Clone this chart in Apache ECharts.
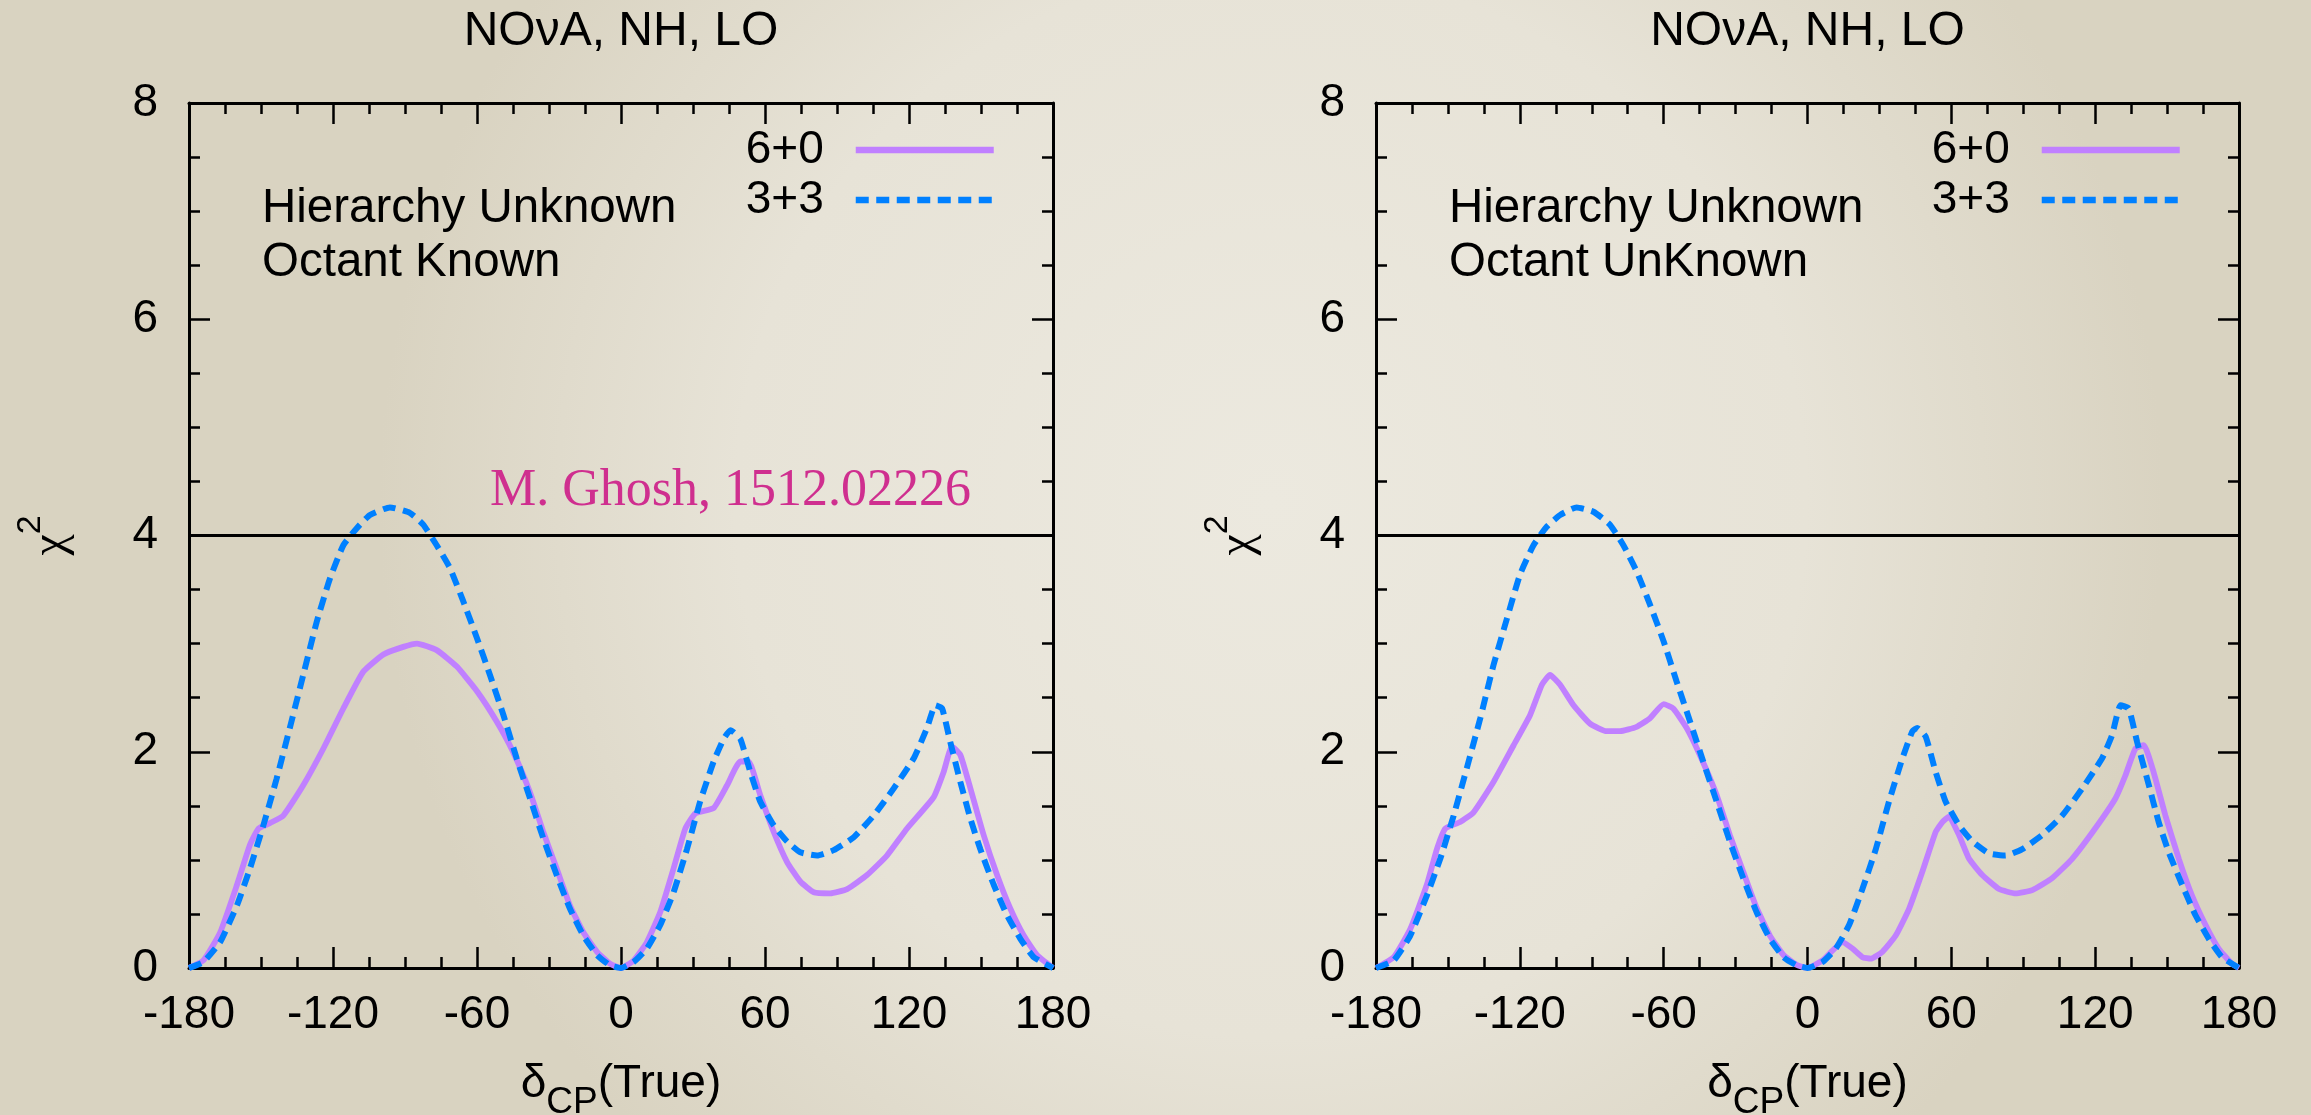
<!DOCTYPE html>
<html>
<head>
<meta charset="utf-8">
<script src="https://cdn.jsdelivr.net/npm/echarts@6/dist/echarts.min.js"></script>
<style>
html,body{margin:0;padding:0;background:#e6e2d6;}
#c{width:2311px;height:1115px;}
</style>
</head>
<body>
<div id="c"></div>
<script>
// ---------------- DATA ----------------
const panelTitles = ['NOνA, NH, LO', 'NOνA, NH, LO'];
const panelNotes = ['Hierarchy Unknown\nOctant Known', 'Hierarchy Unknown\nOctant UnKnown'];
const seriesNames = ['6+0', '3+3'];
const xTickValues = [-180, -120, -60, 0, 60, 120, 180];
const yTickValues = [0, 2, 4, 6, 8];
const thresholdChi2 = 4;
const citation = 'M. Ghosh, 1512.02226';

// Left panel: Octant Known
const leftX60 = [-180,-174,-167,-160,-154.6,-151,-146.3,-140.7,-132.4,-124,-115.7,-107.4,-99,-90.7,-85,-76.8,-68.5,-60,-51.8,-45,-38,-32.4,-26.8,-21.3,-15.7,-10,-4.6,0,5.3,10.8,16.4,21.9,26.8,31,38.6,44.2,49.7,53.2,58,63.6,69.2,74.7,80.3,87.2,94.2,102.5,110.8,119.2,130.3,134.4,137.9,141.4,145.6,151.1,156.7,162.2,167.8,173.3,180];
const leftY60 = [0,0.07,0.33,0.77,1.14,1.29,1.34,1.41,1.69,2.03,2.40,2.74,2.90,2.97,3.0,2.94,2.79,2.56,2.28,2.0,1.63,1.26,0.92,0.58,0.33,0.15,0.04,0,0.07,0.24,0.52,0.92,1.29,1.43,1.48,1.69,1.91,1.91,1.60,1.26,0.98,0.80,0.70,0.69,0.73,0.86,1.04,1.29,1.58,1.81,2.05,1.97,1.66,1.23,0.86,0.55,0.30,0.12,0];
const leftX33 = [-180,-174,-167,-160,-154.6,-149,-143.5,-138,-132.4,-126.8,-121.3,-115.7,-110,-104.6,-96.3,-88,-82.4,-76.8,-71.3,-65.7,-60,-54.6,-49,-43.5,-37.9,-32.4,-26.8,-21.3,-15.7,-10,-4.6,0,5.3,10.8,16.4,21.9,27.5,33,38.6,42.8,45.6,49.7,53.9,58,63.6,69.2,74.7,81.7,88.6,97,105.3,113.6,122,127.5,131,133.8,137.2,141.4,145.6,149.7,155.3,160.8,166.4,172,180];
const leftY33 = [0,0.056,0.24,0.58,0.92,1.32,1.75,2.22,2.71,3.2,3.6,3.91,4.07,4.19,4.26,4.21,4.10,3.91,3.70,3.39,3.05,2.71,2.34,1.94,1.57,1.2,0.86,0.55,0.30,0.12,0.025,0,0.056,0.18,0.40,0.70,1.10,1.54,1.91,2.12,2.20,2.12,1.81,1.54,1.32,1.17,1.07,1.04,1.09,1.21,1.41,1.66,1.94,2.22,2.43,2.40,2.09,1.72,1.38,1.10,0.77,0.49,0.27,0.10,0];

// Right panel: Octant UnKnown
const rightX60 = [-180,-172.6,-165.7,-158.8,-154.6,-151.1,-144.9,-139.3,-131,-122.6,-115.7,-110.8,-107.4,-103.2,-97.6,-90.7,-83.8,-78.2,-71.3,-65.7,-60,-56,-50.4,-44.9,-37.9,-32.4,-26.8,-21.3,-15.7,-10,-4.6,0,6.25,10.4,14.6,18.75,22.9,26.4,31.25,36.8,42.4,47.9,53.5,56.25,59,63.2,67.4,72.9,79.9,86.8,93.75,102,110.4,120,128.5,132.6,136.8,140.3,144.4,149.3,154.9,160.4,166,171.5,177,180];
const rightY60 = [0,0.10,0.36,0.77,1.10,1.29,1.35,1.44,1.72,2.06,2.34,2.62,2.71,2.62,2.43,2.26,2.19,2.19,2.23,2.31,2.44,2.40,2.22,1.97,1.60,1.23,0.89,0.56,0.30,0.12,0.03,0,0.07,0.16,0.24,0.18,0.10,0.086,0.15,0.30,0.55,0.89,1.26,1.35,1.40,1.23,1.01,0.86,0.73,0.69,0.72,0.83,1.01,1.29,1.57,1.78,2.03,2.06,1.81,1.41,1.01,0.67,0.40,0.18,0.04,0];
const rightX33 = [-180,-172.6,-165.7,-158.8,-153.2,-147.6,-142.1,-136.5,-131,-125.4,-119.9,-114.3,-108.8,-103.2,-96.3,-89.3,-82.4,-76.8,-71.3,-65.7,-60,-54.6,-49,-43.5,-37.9,-32.4,-26.8,-21.3,-15.7,-10,-4.6,0,6.25,11.8,17.4,22.9,28.5,34,39.6,43.75,45.8,49.3,53.5,57.6,63.2,68.75,75.7,82.6,89.6,97.9,106.25,114.6,122.9,127,130.6,134,137.5,142.4,146.5,150.7,156.25,161.8,167.4,172.9,180];
const rightY33 = [0,0.07,0.30,0.67,1.01,1.41,1.85,2.31,2.80,3.23,3.64,3.91,4.08,4.19,4.26,4.22,4.10,3.91,3.67,3.36,3.02,2.65,2.28,1.91,1.54,1.17,0.83,0.52,0.27,0.10,0.025,0,0.056,0.18,0.40,0.73,1.10,1.54,1.94,2.19,2.22,2.14,1.81,1.54,1.32,1.17,1.06,1.04,1.10,1.23,1.41,1.66,1.94,2.15,2.43,2.40,2.09,1.69,1.35,1.07,0.77,0.49,0.27,0.10,0];

// ---------------- STYLE ----------------
const SANS = 'Liberation Sans';
const PURPLE = '#c080ff';
const BLUE = '#0080ff';
const FS = 46;

const grids = [
  { left: 189, top: 103, width: 864, height: 865, containLabel: false, outerBoundsMode: 'none' },
  { left: 1376, top: 103, width: 863, height: 865, containLabel: false, outerBoundsMode: 'none' }
];

function zip(xs, ys) { return xs.map((x, i) => [x, ys[i]]); }

const axisLineStyle = { show: true, onZero: false, lineStyle: { color: '#000', width: 3 } };
const tickStyle = { show: true, inside: true, length: 21, lineStyle: { color: '#000', width: 2.5 } };
const minorStyle = { show: true, splitNumber: 4, length: 11, lineStyle: { color: '#000', width: 2.5 } };

const xMin = xTickValues[0], xMax = xTickValues[xTickValues.length - 1];
const xInt = xTickValues[1] - xTickValues[0];
const yMin = yTickValues[0], yMax = yTickValues[yTickValues.length - 1];
const yInt = yTickValues[1] - yTickValues[0];

const xAxes = [], yAxes = [];
[0, 1].forEach(g => {
  xAxes.push({
    type: 'value', gridIndex: g, position: 'bottom', min: xMin, max: xMax, interval: xInt,
    axisLine: axisLineStyle, axisTick: tickStyle, minorTick: minorStyle,
    splitLine: { show: false }, minorSplitLine: { show: false },
    axisLabel: { show: true, color: '#000', fontFamily: SANS, fontSize: FS, margin: 24 },
    name: '{d|δ}{s|CP}{t|(True)}', nameLocation: 'middle', nameGap: 93,
    nameTextStyle: {
      color: '#000', fontFamily: SANS,
      rich: {
        d: { fontSize: FS, fontFamily: SANS, color: '#000', lineHeight: 46, verticalAlign: 'top' },
        s: { fontSize: 37, fontFamily: SANS, color: '#000', lineHeight: 60, verticalAlign: 'bottom' },
        t: { fontSize: FS, fontFamily: SANS, color: '#000', lineHeight: 46, verticalAlign: 'top' }
      }
    }
  });
  xAxes.push({
    type: 'value', gridIndex: g, position: 'top', min: xMin, max: xMax, interval: xInt,
    axisLine: axisLineStyle, axisTick: tickStyle, minorTick: minorStyle,
    splitLine: { show: false }, axisLabel: { show: false }
  });
  yAxes.push({
    type: 'value', gridIndex: g, position: 'left', min: yMin, max: yMax, interval: yInt,
    axisLine: axisLineStyle, axisTick: tickStyle, minorTick: minorStyle,
    splitLine: { show: false }, minorSplitLine: { show: false },
    axisLabel: { show: true, color: '#000', fontFamily: SANS, fontSize: FS, margin: 31 },
    name: '{c|χ}{s|2}', nameLocation: 'middle', nameRotate: 90, nameGap: 114,
    nameTextStyle: {
      color: '#000',
      rich: {
        c: { fontSize: 48, fontFamily: 'Liberation Serif', color: '#000', lineHeight: 61, verticalAlign: 'bottom' },
        s: { fontSize: 34, fontFamily: SANS, color: '#000', lineHeight: 30, verticalAlign: 'top' }
      }
    }
  });
  yAxes.push({
    type: 'value', gridIndex: g, position: 'right', min: yMin, max: yMax, interval: yInt,
    axisLine: axisLineStyle, axisTick: tickStyle, minorTick: minorStyle,
    splitLine: { show: false }, axisLabel: { show: false }
  });
});

function lineSeries(name, data, g, color, dashed, withThreshold) {
  const s = {
    name: name, type: 'line', data: data,
    xAxisIndex: g * 2, yAxisIndex: g * 2,
    symbol: 'none', showSymbol: false, smooth: 0.15,
    lineStyle: dashed ? { color: color, width: 6, type: [13, 7.5], cap: 'butt' }
                      : { color: color, width: 5.8, type: 'solid' },
    itemStyle: { color: color },
    emphasis: { disabled: true },
    animation: false,
    z: dashed ? 4 : 3
  };
  if (withThreshold) {
    s.markLine = {
      silent: true, symbol: 'none', label: { show: false },
      lineStyle: { color: '#000', width: 3, type: 'solid' },
      emphasis: { disabled: true },
      data: [{ yAxis: thresholdChi2 }]
    };
  }
  return s;
}

const series = [
  lineSeries(seriesNames[0], zip(leftX60, leftY60), 0, PURPLE, false, true),
  lineSeries(seriesNames[1], zip(leftX33, leftY33), 0, BLUE, true, false),
  lineSeries(seriesNames[0], zip(rightX60, rightY60), 1, PURPLE, false, true),
  lineSeries(seriesNames[1], zip(rightX33, rightY33), 1, BLUE, true, false)
];

function legendFor(rightPx) {
  return {
    data: seriesNames, orient: 'vertical', align: 'right',
    right: rightPx, top: 127, padding: 0,
    itemWidth: 138, itemHeight: 6, itemGap: 4,
    selectedMode: false,
    textStyle: { color: '#000', fontFamily: SANS, fontSize: 46, lineHeight: 44, padding: [0, 27, 0, 0] },
    itemStyle: { color: 'rgba(0,0,0,0)', borderWidth: 0 },
    lineStyle: { width: 6.5 }
  };
}

const graphics = [];
grids.forEach((gr, i) => {
  graphics.push({
    type: 'text', x: gr.left + gr.width / 2, y: 32, silent: true,
    style: { text: panelTitles[i], font: `48px "${SANS}"`, fill: '#000', align: 'center', verticalAlign: 'middle' }
  });
  graphics.push({
    type: 'text', x: gr.left + 73, y: 182, silent: true,
    style: { text: panelNotes[i], font: `47.5px "${SANS}"`, fill: '#000', lineHeight: 54, align: 'left', verticalAlign: 'top' }
  });
});
graphics.push({
  type: 'text', x: 490, y: 491, silent: true,
  style: { text: citation, font: `52px "Liberation Serif"`, fill: '#cf2f8f', align: 'left', verticalAlign: 'middle' }
});

const chart = echarts.init(document.getElementById('c'), null, { renderer: 'canvas' });
chart.setOption({
  animation: false,
  backgroundColor: {
    type: 'radial', x: 0.55, y: 0.45, r: 0.8,
    colorStops: [
      { offset: 0, color: '#ece9df' },
      { offset: 0.6, color: '#e7e3d7' },
      { offset: 1, color: '#d9d3c1' }
    ]
  },
  grid: grids,
  xAxis: xAxes,
  yAxis: yAxes,
  legend: [legendFor(2311 - 997), legendFor(2311 - 2183)],
  tooltip: { show: false },
  graphic: graphics,
  series: series
});
</script>
</body>
</html>
